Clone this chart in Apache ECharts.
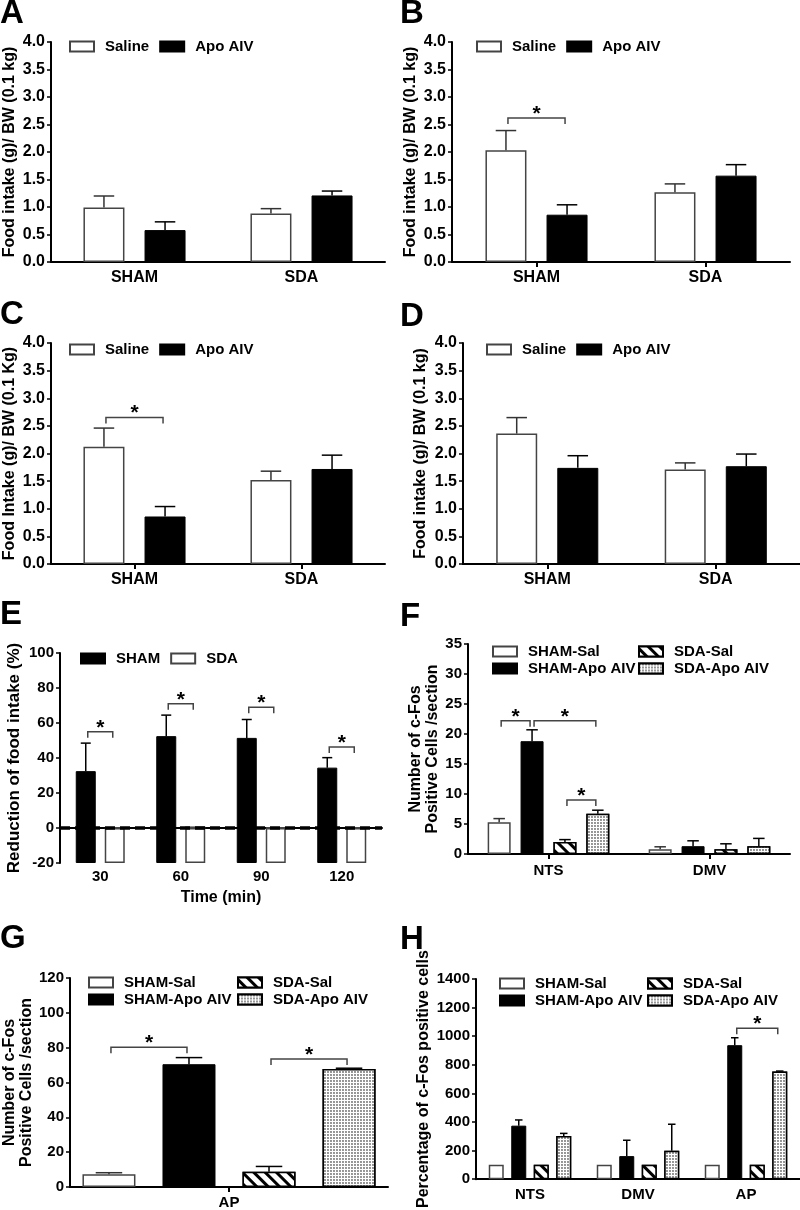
<!DOCTYPE html>
<html>
<head>
<meta charset="utf-8">
<script src="https://cdn.jsdelivr.net/npm/echarts@6/dist/echarts.min.js"></script>
<style>
html, body { margin: 0; padding: 0; background: #fff; }
#main { width: 800px; height: 1210px; }
</style>
</head>
<body>
<div id="main"></div>
<script>
// ---- data (mean / SEM) ----
const foodCats = ['SHAM', 'SDA']
const salineA = [0.99, 0.88], salineSemA = [0.21, 0.09]
const apoA = [0.58, 1.21], apoSemA = [0.15, 0.08]
const salineB = [2.03, 1.27], salineSemB = [0.36, 0.15]
const apoB = [0.86, 1.57], apoSemB = [0.18, 0.2]
const salineC = [2.12, 1.52], salineSemC = [0.34, 0.16]
const apoC = [0.86, 1.72], apoSemC = [0.18, 0.25]
const salineD = [2.36, 1.71], salineSemD = [0.29, 0.12]
const apoD = [1.74, 1.77], apoSemD = [0.22, 0.22]

const timeCats = ['30', '60', '90', '120']
const shamReduction = [32.5, 52.5, 51.5, 34.5]
const shamReductionSem = [16, 12, 10.5, 5.7]
const sdaReduction = [0.4, 0.9, 0.3, 0.2]
const sdaReductionSem = [0, 0, 0, 0]

const fosCats = ['NTS', 'DMV']
const shamSalF = [5.3, 0.8], shamSalSemF = [0.6, 0.4]
const shamApoF = [18.8, 1.3], shamApoSemF = [1.9, 0.9]
const sdaSalF = [2.0, 0.8], sdaSalSemF = [0.4, 0.9]
const sdaApoF = [6.7, 1.3], sdaApoSemF = [0.6, 1.3]

const apCats = ['AP']
const shamSalG = [7.3], shamSalSemG = [0.9]
const shamApoG = [70.5], shamApoSemG = [3.8]
const sdaSalG = [8.8], sdaSalSemG = [3.0]
const sdaApoG = [67.8], sdaApoSemG = [0.4]

const pctCats = ['NTS', 'DMV', 'AP']
const shamSalH = [100, 100, 100], shamSalSemH = [0, 0, 0]
const shamApoH = [374, 161, 937], shamApoSemH = [40, 111, 52]
const sdaSalH = [100, 100, 100], sdaSalSemH = [0, 0, 0]
const sdaApoH = [302, 199, 753], sdaApoSemH = [18, 185, 3]

// significance brackets: [category, bar from, bar to, level]
const bracketsB = [[0, 0, 1, 2.62]]
const bracketsC = [[0, 0, 1, 2.65]]
const bracketsE = [[0, 0, 1, 55], [1, 0, 1, 71], [2, 0, 1, 69], [3, 0, 1, 46.3]]
const bracketsF = [[0, 0, 1, 22.2], [0, 1, 3, 22.2], [0, 2, 3, 9.0]]
const bracketsG = [[0, 0, 1, 80.2], [0, 2, 3, 73.5]]
const bracketsH = [[2, 1, 3, 1056]]

const FONT = 'Liberation Sans, Arial, Helvetica, sans-serif'

// ---- layout ----
const grids = [
    { left: 47, top: 42, width: 338, height: 220 },
    { left: 452, top: 42, width: 338, height: 220 },
    { left: 47, top: 343, width: 338, height: 221 },
    { left: 463, top: 343, width: 337, height: 221 },
    { left: 60, top: 653, width: 322, height: 210 },
    { left: 468, top: 644, width: 322, height: 210 },
    { left: 67, top: 978, width: 321, height: 210 },
    { left: 476, top: 979, width: 324, height: 208 },
]
const barW = [41, 41, 41, 41, 20, 23, 53, 15]
const barGap = [0.49, 0.49, 0.49, 0.49, 0.45, 0.43, 0.51, 0.5]

const white = { color: '#fff', borderColor: '#444', borderWidth: 1.5 }
const black = { color: '#000', borderColor: '#000', borderWidth: 1 }
const hatch = {
    color: '#fff', borderColor: '#000', borderWidth: 1.5,
    decal: { symbol: 'rect', symbolSize: 1, dashArrayX: [1, 0], dashArrayY: [3, 5], rotation: Math.PI / 4, color: '#000', backgroundColor: '#fff' },
}
const dots = {
    color: '#fff', borderColor: '#000', borderWidth: 1.5,
    decal: { symbol: 'circle', symbolSize: 0.9, dashArrayX: [2, 1], dashArrayY: [2, 1], color: '#666', backgroundColor: '#fff' },
}

const label = size => ({ color: '#000', fontFamily: FONT, fontWeight: 'bold', fontSize: size })

const xAxis = (gi, data, opts = {}) => ({
    type: 'category',
    gridIndex: gi,
    data,
    axisLine: { lineStyle: { color: '#000', width: 2 } },
    axisTick: { show: opts.tick !== false, alignWithLabel: true, length: 5, lineStyle: { width: 2 } },
    axisLabel: { ...label(opts.size || 15), margin: opts.margin || 8 },
    name: opts.name,
    nameLocation: 'middle',
    nameGap: opts.nameGap,
    nameTextStyle: label(16),
})

const yAxis = (gi, min, max, interval, name, nameGap, opts = {}) => ({
    type: 'value',
    gridIndex: gi,
    min, max, interval,
    splitLine: { show: false },
    axisLine: { show: true, lineStyle: { color: '#000', width: 2 } },
    axisTick: { show: true, length: 4, lineStyle: { width: 1.5 } },
    axisLabel: { ...label(opts.size || 15), margin: 6, formatter: opts.fmt || (v => String(v)) },
    name,
    nameLocation: 'middle',
    nameRotate: 90,
    nameGap,
    nameTextStyle: { ...label(opts.nameSize || 16), lineHeight: 17 },
})

const bar = (gi, name, data, style, extra = {}) => ({
    type: 'bar',
    name,
    xAxisIndex: gi,
    yAxisIndex: gi,
    data,
    barWidth: barW[gi],
    barGap: barGap[gi] * 100 + '%',
    itemStyle: style,
    silent: true,
    ...extra,
})

// error bars: groups = [[means, sems, colour], ...] one entry per bar slot
const errorBars = (gi, groups) => {
    const rows = []
    groups.forEach(([m, s], b) => m.forEach((v, c) => rows.push([c, b, v, s[c]])))
    const n = groups.length
    return {
        type: 'custom',
        xAxisIndex: gi,
        yAxisIndex: gi,
        silent: true,
        z: 4,
        data: rows,
        encode: { x: 0, y: 2 },
        renderItem: (params, api) => {
            const c = api.value(0), b = api.value(1), v = api.value(2), s = api.value(3)
            if (!s) return
            const off = (b - (n - 1) / 2) * barW[gi] * (1 + barGap[gi])
            const p0 = api.coord([c, v])
            const p1 = api.coord([c, v + s])
            const x = p0[0] + off
            const half = barW[gi] / 4
            const stroke = groups[b][2]
            return {
                type: 'group',
                children: [
                    { type: 'line', shape: { x1: x, y1: p0[1], x2: x, y2: p1[1] }, style: { stroke, lineWidth: 1.5 } },
                    { type: 'line', shape: { x1: x - half, y1: p1[1], x2: x + half, y2: p1[1] }, style: { stroke, lineWidth: 1.5 } },
                ],
            }
        },
    }
}

const brackets = (gi, n, rows) => ({
    type: 'custom',
    xAxisIndex: gi,
    yAxisIndex: gi,
    silent: true,
    z: 5,
    data: rows,
    encode: { x: 0, y: 3 },
    renderItem: (params, api) => {
        const c = api.value(0), a = api.value(1), b = api.value(2), lv = api.value(3)
        const step = barW[gi] * (1 + barGap[gi])
        const p = api.coord([c, lv])
        const xa = p[0] + (a - (n - 1) / 2) * step + 2
        const xb = p[0] + (b - (n - 1) / 2) * step - 2
        const y = p[1]
        return {
            type: 'group',
            children: [
                { type: 'polyline', shape: { points: [[xa, y + 6], [xa, y], [xb, y], [xb, y + 6]] }, style: { stroke: '#444', lineWidth: 1.5, fill: null } },
                { type: 'text', style: { text: '*', x: (xa + xb) / 2, y: y - 4, align: 'center', verticalAlign: 'middle', font: `bold 21px ${FONT}`, fill: '#000' } },
            ],
        }
    },
})

const legend = (left, top, names, orient = 'horizontal') => ({
    left, top, orient,
    padding: 0,
    data: names,
    icon: 'rect',
    itemWidth: 24,
    itemHeight: 10,
    itemGap: orient === 'vertical' ? 2 : 10,
    selectedMode: false,
    textStyle: { ...label(15), padding: [0, 0, 0, 6] },
})

const fmt1 = v => v.toFixed(1)
const food = ['Saline', 'Apo AIV']
const fos1 = ['SHAM-Sal', 'SHAM-Apo AIV']
const fos2 = ['SDA-Sal', 'SDA-Apo AIV']

const foodPanel = (gi, sal, salSem, apo, apoSem) => [
    bar(gi, 'Saline', sal, white),
    bar(gi, 'Apo AIV', apo, black),
    errorBars(gi, [[sal, salSem, '#333'], [apo, apoSem, '#000']]),
]
const fosPanel = (gi, a, as, b, bs, c, cs, d, ds) => [
    bar(gi, 'SHAM-Sal', a, white),
    bar(gi, 'SHAM-Apo AIV', b, black),
    bar(gi, 'SDA-Sal', c, hatch),
    bar(gi, 'SDA-Apo AIV', d, dots),
    errorBars(gi, [[a, as, '#333'], [b, bs, '#000'], [c, cs, '#000'], [d, ds, '#000']]),
]
const eMin = -20

const option = {
    animation: false,
    backgroundColor: '#fff',
    textStyle: { fontFamily: FONT },
    grid: grids,
    xAxis: [
        xAxis(0, foodCats, { tick: false, size: 16 }),
        xAxis(1, foodCats, { size: 16 }),
        xAxis(2, foodCats, { size: 16 }),
        xAxis(3, foodCats, { size: 16 }),
        xAxis(4, timeCats, { tick: false, margin: 6, name: 'Time (min)', nameGap: 27 }),
        xAxis(5, fosCats, { margin: 9 }),
        xAxis(6, apCats, { margin: 8 }),
        xAxis(7, pctCats, { tick: false, margin: 8 }),
    ],
    yAxis: [
        yAxis(0, 0, 4, 0.5, 'Food intake (g)/ BW (0.1 kg)', 33, { fmt: fmt1, size: 16 }),
        yAxis(1, 0, 4, 0.5, 'Food intake (g)/ BW (0.1 kg)', 33, { fmt: fmt1, size: 16 }),
        yAxis(2, 0, 4, 0.5, 'Food Intake (g)/ BW (0.1 Kg)', 33, { fmt: fmt1, size: 16 }),
        yAxis(3, 0, 4, 0.5, 'Food intake (g)/ BW (0.1 kg)', 34, { fmt: fmt1, size: 16 }),
        yAxis(4, eMin, 100, 20, 'Reduction of food intake (%)', 37, { nameSize: 17 }),
        yAxis(5, 0, 35, 5, 'Number of c-Fos\nPositive Cells /section', 27),
        yAxis(6, 0, 120, 20, 'Number of c-Fos\nPositive Cells /section', 35),
        yAxis(7, 0, 1400, 200, 'Percentage of c-Fos positive cells', 44),
    ],
    legend: [
        legend(69, 39, food),
        legend(476, 39, food),
        legend(69, 342, food),
        legend(486, 342, food),
        legend(80, 651, ['SHAM', 'SDA']),
        legend(492, 644, fos1, 'vertical'),
        legend(638, 644, fos2, 'vertical'),
        legend(88, 975, fos1, 'vertical'),
        legend(237, 975, fos2, 'vertical'),
        legend(499, 976, fos1, 'vertical'),
        legend(647, 976, fos2, 'vertical'),
    ],
    graphic: [
        ['A', 0, -3], ['B', 400, -3], ['C', 0, 298], ['D', 400, 300],
        ['E', 0, 598], ['F', 400, 600], ['G', 0, 922], ['H', 400, 923],
    ].map(([t, x, y]) => ({ type: 'text', left: x, top: y, style: { text: t, font: `bold 33px ${FONT}`, fill: '#000' } })),
    series: [
        ...foodPanel(0, salineA, salineSemA, apoA, apoSemA),
        ...foodPanel(1, salineB, salineSemB, apoB, apoSemB),
        brackets(1, 2, bracketsB),
        ...foodPanel(2, salineC, salineSemC, apoC, apoSemC),
        brackets(2, 2, bracketsC),
        ...foodPanel(3, salineD, salineSemD, apoD, apoSemD),

        // E: bars are drawn up from the axis floor (-20), so each bar gets a floor part
        bar(4, 'SHAM', shamReduction, black, { stack: 'sham' }),
        bar(4, 'SHAM floor', timeCats.map(() => eMin), black, { stack: 'sham' }),
        bar(4, 'SDA', sdaReduction, white, { stack: 'sda' }),
        bar(4, 'SDA floor', timeCats.map(() => eMin), white, { stack: 'sda' }),
        errorBars(4, [[shamReduction, shamReductionSem, '#000'], [sdaReduction, sdaReductionSem, '#333']]),
        brackets(4, 2, bracketsE),
        {
            type: 'line',
            xAxisIndex: 4,
            yAxisIndex: 4,
            data: [],
            z: 10,
            silent: true,
            markLine: {
                silent: true,
                symbol: 'none',
                label: { show: false },
                lineStyle: { type: [10, 5], width: 3.5, color: '#000' },
                data: [{ yAxis: 0 }],
            },
        },

        ...fosPanel(5, shamSalF, shamSalSemF, shamApoF, shamApoSemF, sdaSalF, sdaSalSemF, sdaApoF, sdaApoSemF),
        brackets(5, 4, bracketsF),
        ...fosPanel(6, shamSalG, shamSalSemG, shamApoG, shamApoSemG, sdaSalG, sdaSalSemG, sdaApoG, sdaApoSemG),
        brackets(6, 4, bracketsG),
        ...fosPanel(7, shamSalH, shamSalSemH, shamApoH, shamApoSemH, sdaSalH, sdaSalSemH, sdaApoH, sdaApoSemH),
        brackets(7, 4, bracketsH),
    ],
}

const chart = echarts.init(document.getElementById('main'))
chart.setOption(option)
</script>
</body>
</html>
